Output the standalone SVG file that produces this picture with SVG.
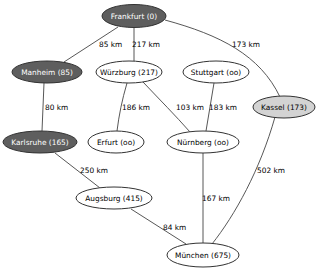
<svg xmlns="http://www.w3.org/2000/svg" width="320" height="271" viewBox="0 0 320 271">
<style>
.n ellipse{stroke:#333;stroke-width:1}
.dark ellipse{fill:#5e5e5e}
.white ellipse{fill:#fff}
.light ellipse{fill:#d3d3d3}
text{font-family:"DejaVu Sans",Verdana,sans-serif;font-size:7.4px}
.n text{text-anchor:middle}
.dark text{fill:#fff}
.e path{fill:none;stroke:#444;stroke-width:0.9}
.l text{fill:#000}
</style>
<rect width="320" height="271" fill="#fff"/>
<g class="e" id="connectors">
<path d="M118,27 L64,62"/>
<path d="M134,28 L134,61"/>
<path d="M165,20 C220,35 260,55 280,97"/>
<path d="M44,83 L42,131"/>
<path d="M127,83 C122,100 119,115 117,131"/>
<path d="M143,82 C160,100 175,115 190,132"/>
<path d="M214,83 L206,131"/>
<path d="M55,153 L100,188"/>
<path d="M131,209 L186,244"/>
<path d="M203,153 L203,243"/>
<path d="M275,117 C260,170 235,215 212,244"/>
</g>
<g class="l" id="labels">
<text x="99" y="47">85 km</text>
<text x="132" y="47">217 km</text>
<text x="232" y="47">173 km</text>
<text x="45" y="110">80 km</text>
<text x="122" y="110">186 km</text>
<text x="176" y="110">103 km</text>
<text x="209" y="110">183 km</text>
<text x="80" y="173">250 km</text>
<text x="163" y="230">84 km</text>
<text x="202" y="201">167 km</text>
<text x="257" y="173">502 km</text>
</g>
<g class="n dark" id="frankfurt"><ellipse cx="134" cy="16" rx="32" ry="11.5"/><text x="134" y="19">Frankfurt (0)</text></g>
<g class="n dark" id="manheim"><ellipse cx="47" cy="72" rx="35" ry="11"/><text x="47" y="75">Manheim (85)</text></g>
<g class="n white" id="wuerzburg"><ellipse cx="129" cy="72" rx="33" ry="11"/><text x="129" y="75">Würzburg (217)</text></g>
<g class="n white" id="stuttgart"><ellipse cx="216" cy="72" rx="33" ry="11"/><text x="216" y="75">Stuttgart (oo)</text></g>
<g class="n light" id="kassel"><ellipse cx="284" cy="107" rx="31" ry="11"/><text x="284" y="110">Kassel (173)</text></g>
<g class="n dark" id="karlsruhe"><ellipse cx="40" cy="142" rx="37" ry="11"/><text x="40" y="145">Karlsruhe (165)</text></g>
<g class="n white" id="erfurt"><ellipse cx="116" cy="142" rx="28" ry="11"/><text x="116" y="145">Erfurt (oo)</text></g>
<g class="n white" id="nuernberg"><ellipse cx="203" cy="142" rx="36" ry="11"/><text x="203" y="145">Nürnberg (oo)</text></g>
<g class="n white" id="augsburg"><ellipse cx="114" cy="198" rx="38" ry="11"/><text x="114" y="201">Augsburg (415)</text></g>
<g class="n white" id="muenchen"><ellipse cx="203" cy="255" rx="36" ry="12"/><text x="203" y="258">München (675)</text></g>
</svg>
